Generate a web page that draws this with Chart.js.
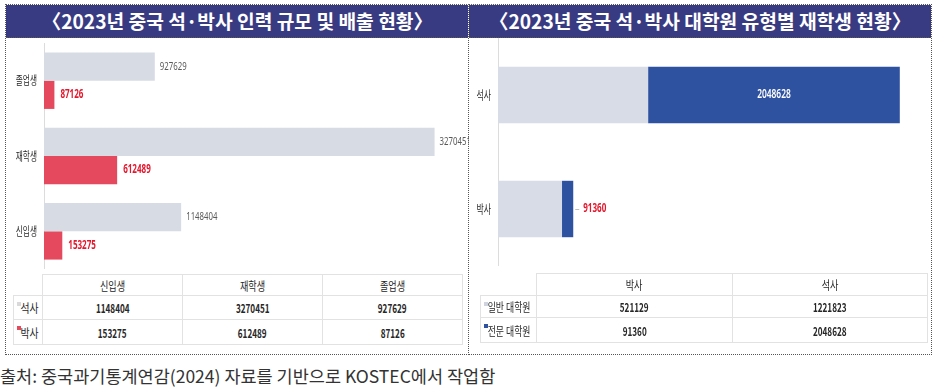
<!DOCTYPE html>
<html><head><meta charset="utf-8">
<script src="https://cdn.jsdelivr.net/npm/chart.js@4.4.1/dist/chart.umd.min.js"></script>
<style>
html,body{margin:0;padding:0;}
body{width:938px;height:391px;background:#fff;position:relative;overflow:hidden;font-family:"Noto Sans CJK KR","Noto Sans",sans-serif;}
.panel{position:absolute;top:4px;height:351px;border:1px dotted #555;box-sizing:border-box;}
#pl{left:5px;width:464px;}
#pr{left:468px;width:464px;}
.title{position:absolute;top:0;left:0;right:0;height:32px;background:#393b82;color:#fff;font-weight:bold;font-size:19.5px;line-height:32px;text-align:center;border-bottom:1px dotted #555;white-space:nowrap;}
.title span{display:inline-block;transform:scaleX(0.985);}
canvas{position:absolute;}
#cl{left:0;top:40px;}
#cr{left:468px;top:36px;}
table{position:absolute;border-collapse:collapse;table-layout:fixed;font-size:12px;color:#262626;}
td{border:1px solid #e2e2e2;padding:0;text-align:center;white-space:nowrap;overflow:hidden;}
td.blank{border:none;}
td.leg{text-align:left;position:relative;}
td .c{display:inline-block;transform:scaleX(0.76);}
td.num .c{font-weight:bold;transform:scaleX(0.68);}
td.leg .c{transform-origin:0 50%;padding-left:8px;transform:scaleX(0.82);}
#tr td.leg .c{transform:scaleX(0.74);padding-left:9px;}
td.leg i{position:absolute;left:3px;top:6px;width:4px;height:4px;}
#tl{left:13px;top:274px;}
#tr{left:480px;top:273px;}
#foot{position:absolute;left:0;top:367px;font-size:17.5px;line-height:18px;color:#333;white-space:nowrap;}
</style></head>
<body>
<div class="panel" id="pl"><div class="title"><span>〈2023년 중국 석·박사 인력 규모 및 배출 현황〉</span></div></div>
<div class="panel" id="pr"><div class="title"><span>〈2023년 중국 석·박사 대학원 유형별 재학생 현황〉</span></div></div>
<canvas id="cl" width="469" height="232"></canvas>
<canvas id="cr" width="464" height="236"></canvas>
<table id="tl"></table>
<table id="tr"></table>
<div id="foot">출처: 중국과기통계연감(2024) 자료를 기반으로 KOSTEC에서 작업함</div>
<script>
// ---- data ----
const leftCategories = ['신입생', '재학생', '졸업생'];
const leftSeriesNames = ['석사', '박사'];
const masterValues = [1148404, 3270451, 927629];
const doctorValues = [153275, 612489, 87126];

const rightCategories = ['박사', '석사'];
const rightSeriesNames = ['일반 대학원', '전문 대학원'];
const generalValues = [521129, 1221823];
const professionalValues = [91360, 2048628];

const axisMax = 3500000;

// ---- colours ----
const cLight = '#d6dbe4';
const cRed = '#e5495e';
const cLightR = '#d8dce7';
const cBlue = '#2e52a0';
const cLabelRed = '#e3182d';

function txt(ctx, s, x, y, font, color, align, sx) {
  ctx.save();
  ctx.font = font; ctx.fillStyle = color; ctx.textBaseline = 'middle'; ctx.textAlign = align;
  ctx.translate(x, y); ctx.scale(sx, 1); ctx.fillText(s, 0, 0);
  ctx.restore();
}

function axisPlugin(labelFont, labelSx) {
  return {
    id: 'axisAndCats',
    beforeDatasetsDraw(chart) {
      const {ctx, chartArea} = chart;
      ctx.save();
      ctx.strokeStyle = '#dcdcdc'; ctx.lineWidth = 1;
      ctx.beginPath();
      ctx.moveTo(chartArea.left + 0.5, chartArea.top);
      ctx.lineTo(chartArea.left + 0.5, chartArea.bottom);
      ctx.stroke();
      ctx.restore();
      const y = chart.scales.y;
      chart.data.labels.forEach((lab, i) => {
        txt(ctx, lab, chartArea.left - 7, y.getPixelForValue(i), labelFont, '#262626', 'right', labelSx);
      });
    }
  };
}

const leftLabels = {
  id: 'leftLabels',
  afterDatasetsDraw(chart) {
    const ctx = chart.ctx;
    chart.data.datasets.forEach((ds, di) => {
      const meta = chart.getDatasetMeta(di);
      meta.data.forEach((bar, i) => {
        const v = ds.data[i];
        if (di === 0) txt(ctx, String(v), bar.x + 5, bar.y, '11.5px "Noto Sans"', '#595959', 'left', 0.68);
        else txt(ctx, String(v), bar.x + 6, bar.y, 'bold 11.5px "Noto Sans"', cLabelRed, 'left', 0.7);
      });
    });
  }
};

const rightLabels = {
  id: 'rightLabels',
  afterDatasetsDraw(chart) {
    const ctx = chart.ctx;
    const ds = chart.data.datasets[1];
    const meta = chart.getDatasetMeta(1);
    meta.data.forEach((bar, i) => {
      const v = ds.data[i];
      const w = bar.x - bar.base;
      if (w > 60) {
        txt(ctx, String(v), (bar.x + bar.base) / 2, bar.y, '600 12px "Noto Sans"', '#ffffff', 'center', 0.7);
      } else {
        ctx.save(); ctx.strokeStyle = '#bfbfbf'; ctx.lineWidth = 1;
        ctx.beginPath(); ctx.moveTo(bar.x + 2, bar.y + 0.5); ctx.lineTo(bar.x + 6, bar.y + 0.5); ctx.stroke(); ctx.restore();
        txt(ctx, String(v), bar.x + 10, bar.y, 'bold 11.5px "Noto Sans"', cLabelRed, 'left', 0.7);
      }
    });
  }
};

new Chart(document.getElementById('cl'), {
  type: 'bar',
  data: {
    labels: leftCategories,
    datasets: [
      {label: leftSeriesNames[0], data: masterValues, backgroundColor: cLight, categoryPercentage: 0.75, barPercentage: 1},
      {label: leftSeriesNames[1], data: doctorValues, backgroundColor: cRed, categoryPercentage: 0.75, barPercentage: 1}
    ]
  },
  options: {
    indexAxis: 'y', responsive: false, animation: false, devicePixelRatio: 1,
    layout: {padding: {left: 44, right: 7, top: 3, bottom: 3}},
    plugins: {legend: {display: false}, tooltip: {enabled: false}},
    scales: {
      x: {type: 'linear', display: false, min: 0, max: axisMax},
      y: {type: 'category', display: false, reverse: true}
    }
  },
  plugins: [axisPlugin('12px "Noto Sans CJK KR"', 0.64), leftLabels]
});

new Chart(document.getElementById('cr'), {
  type: 'bar',
  data: {
    labels: rightCategories,
    datasets: [
      {label: rightSeriesNames[0], data: generalValues, backgroundColor: cLightR, categoryPercentage: 1, barPercentage: 0.495},
      {label: rightSeriesNames[1], data: professionalValues, backgroundColor: cBlue, categoryPercentage: 1, barPercentage: 0.495}
    ]
  },
  options: {
    indexAxis: 'y', responsive: false, animation: false, devicePixelRatio: 1,
    layout: {padding: {left: 30, right: 4, top: 2, bottom: 6}},
    plugins: {legend: {display: false}, tooltip: {enabled: false}},
    scales: {
      x: {type: 'linear', display: false, min: 0, max: axisMax, stacked: true},
      y: {type: 'category', display: false, reverse: true, stacked: true}
    }
  },
  plugins: [axisPlugin('12px "Noto Sans CJK KR"', 0.66), rightLabels]
});

function buildTable(id, cats, names, series, colors, legW, colW, rowH) {
  const t = document.getElementById(id);
  let h = '<colgroup><col style="width:' + legW + 'px">';
  cats.forEach(() => h += '<col style="width:' + colW + 'px">');
  h += '</colgroup>';
  h += '<tr style="height:' + rowH[0] + 'px"><td class="blank"></td>';
  cats.forEach(c => h += '<td><span class="c">' + c + '</span></td>');
  h += '</tr>';
  names.forEach((n, si) => {
    h += '<tr style="height:' + rowH[si + 1] + 'px"><td class="leg"><i style="background:' + colors[si] + '"></i><span class="c">' + n + '</span></td>';
    series[si].forEach(v => h += '<td class="num"><span class="c">' + v + '</span></td>');
    h += '</tr>';
  });
  t.innerHTML = h;
  t.style.width = (legW + colW * cats.length) + 'px';
}
buildTable('tl', leftCategories, leftSeriesNames, [masterValues, doctorValues], ['#d9d9d9', cRed], 29, 140, [21, 24, 25]);
buildTable('tr', rightCategories, rightSeriesNames, [generalValues, professionalValues], ['#d0d3de', cBlue], 56, 195.5, [22, 22, 25]);
</script>
</body></html>
